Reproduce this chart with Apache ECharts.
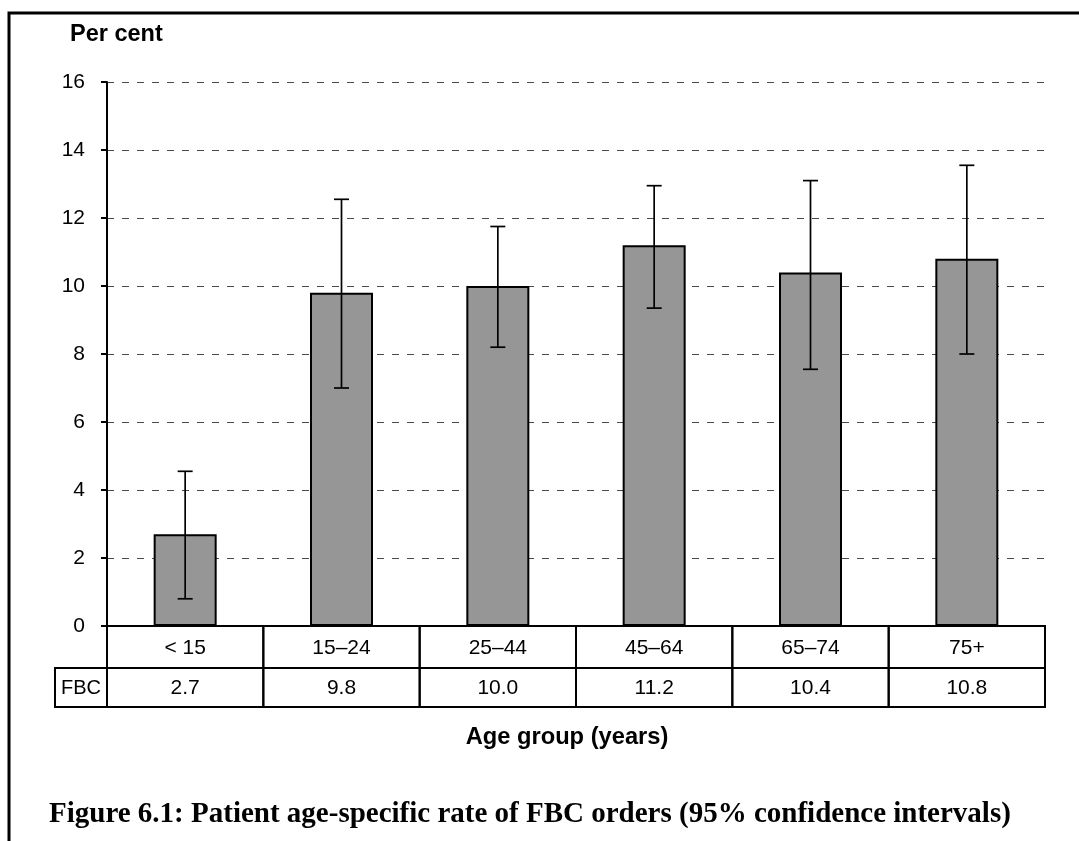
<!DOCTYPE html>
<html>
<head>
<meta charset="utf-8">
<script src="https://cdn.jsdelivr.net/npm/echarts@6/dist/echarts.min.js"></script>
<style>
  html, body { margin: 0; padding: 0; background: #fff; }
  #chart { width: 1079px; height: 841px; }
</style>
</head>
<body>
<div id="chart"></div>
<script>
// Age groups and FBC order rates (per cent) with 95% confidence limits
const categories = ['< 15', '15–24', '25–44', '45–64', '65–74', '75+'];
const fbcRate = [2.7, 9.8, 10.0, 11.2, 10.4, 10.8];
const ciLower = [0.8, 7.0, 8.2, 9.35, 7.55, 8.0];
const ciUpper = [4.55, 12.55, 11.75, 12.95, 13.1, 13.55];
const rowLabel = 'FBC';
const yMin = 0, yMax = 16, yStep = 2;

const SANS = '"Liberation Sans", Arial, sans-serif';
const SERIF = '"Liberation Serif", "Times New Roman", serif';
const LINE = 2;
const WHISKER = 1.7;
const ROW1 = 42, ROW2 = 39, LABEL_CELL = 52;

const chart = echarts.init(document.getElementById('chart'), null, { renderer: 'canvas' });

// Data table under the axis: one column per age group, plus the row label cell
function renderTable(params, api) {
  const i = api.value(0);
  const p = api.coord([i, yMin]);
  const bw = api.size([1, 0])[0];
  const x0 = p[0] - bw / 2, y0 = p[1];
  const cellStyle = { fill: 'none', stroke: '#000', lineWidth: LINE };
  const cellText = (txt, x, y, size) => ({
    type: 'text',
    style: { text: txt, x: x, y: y, align: 'center', verticalAlign: 'middle',
             font: size + 'px ' + SANS, fill: '#000' }
  });
  const children = [
    { type: 'rect', shape: { x: x0, y: y0, width: bw, height: ROW1 }, style: cellStyle },
    { type: 'rect', shape: { x: x0, y: y0 + ROW1, width: bw, height: ROW2 }, style: cellStyle },
    cellText(categories[i], p[0], y0 + ROW1 / 2 + 1, 21),
    cellText(fbcRate[i].toFixed(1), p[0], y0 + ROW1 + ROW2 / 2 + 1, 21)
  ];
  if (i === 0) {
    children.push(
      { type: 'rect', shape: { x: x0 - LABEL_CELL, y: y0 + ROW1, width: LABEL_CELL, height: ROW2 }, style: cellStyle },
      cellText(rowLabel, x0 - LABEL_CELL / 2, y0 + ROW1 + ROW2 / 2 + 1, 20)
    );
  }
  return { type: 'group', children: children };
}

// Confidence interval whiskers
function renderErrorBar(params, api) {
  const i = api.value(0);
  const lo = api.coord([i, api.value(1)]);
  const hi = api.coord([i, api.value(2)]);
  const cap = 7.5;
  const st = { stroke: '#000', lineWidth: WHISKER };
  return {
    type: 'group',
    children: [
      { type: 'line', shape: { x1: lo[0], y1: lo[1], x2: hi[0], y2: hi[1] }, style: st },
      { type: 'line', shape: { x1: hi[0] - cap, y1: hi[1], x2: hi[0] + cap, y2: hi[1] }, style: st },
      { type: 'line', shape: { x1: lo[0] - cap, y1: lo[1], x2: lo[0] + cap, y2: lo[1] }, style: st }
    ]
  };
}

chart.setOption({
  animation: false,
  backgroundColor: '#fff',
  grid: { left: 107, right: 34, top: 82, bottom: 215, containLabel: false },
  xAxis: {
    type: 'category',
    data: categories,
    axisLine: { show: true, lineStyle: { color: '#000', width: LINE } },
    axisTick: { show: false },
    axisLabel: { show: false },
    splitLine: { show: false }
  },
  yAxis: {
    type: 'value',
    min: yMin, max: yMax, interval: yStep,
    axisLine: { show: true, lineStyle: { color: '#000', width: LINE } },
    axisTick: { show: true, length: 6, lineStyle: { color: '#000', width: LINE } },
    axisLabel: { color: '#000', fontSize: 21, fontFamily: SANS, margin: 22 },
    splitLine: { show: true, lineStyle: { color: '#4a4a4a', width: 1.2, type: [7, 8] } }
  },
  series: [
    {
      type: 'bar',
      data: fbcRate,
      barWidth: 63,
      itemStyle: { color: '#969696', borderColor: '#000', borderWidth: LINE },
      z: 2
    },
    {
      type: 'custom',
      renderItem: renderErrorBar,
      data: categories.map((c, i) => [i, ciLower[i], ciUpper[i]]),
      z: 3
    },
    {
      type: 'custom',
      renderItem: renderTable,
      data: categories.map((c, i) => [i, yMin]),
      clip: false,
      z: 4
    }
  ],
  graphic: [
    { type: 'polyline', shape: { points: [[9, 841], [9, 13], [1079, 13]] },
      style: { stroke: '#000', lineWidth: 3, fill: 'none' } },
    { type: 'text', x: 70, y: 35,
      style: { text: 'Per cent', font: 'bold 23.5px ' + SANS, fill: '#000', verticalAlign: 'middle' } },
    { type: 'text', x: 567, y: 737,
      style: { text: 'Age group (years)', font: 'bold 23.7px ' + SANS, fill: '#000', align: 'center', verticalAlign: 'middle' } },
    { type: 'text', x: 49, y: 815,
      style: { text: 'Figure 6.1: Patient age-specific rate of FBC orders (95% confidence intervals)',
               font: 'bold 29px ' + SERIF, fill: '#000', verticalAlign: 'middle' } }
  ]
});
</script>
</body>
</html>
